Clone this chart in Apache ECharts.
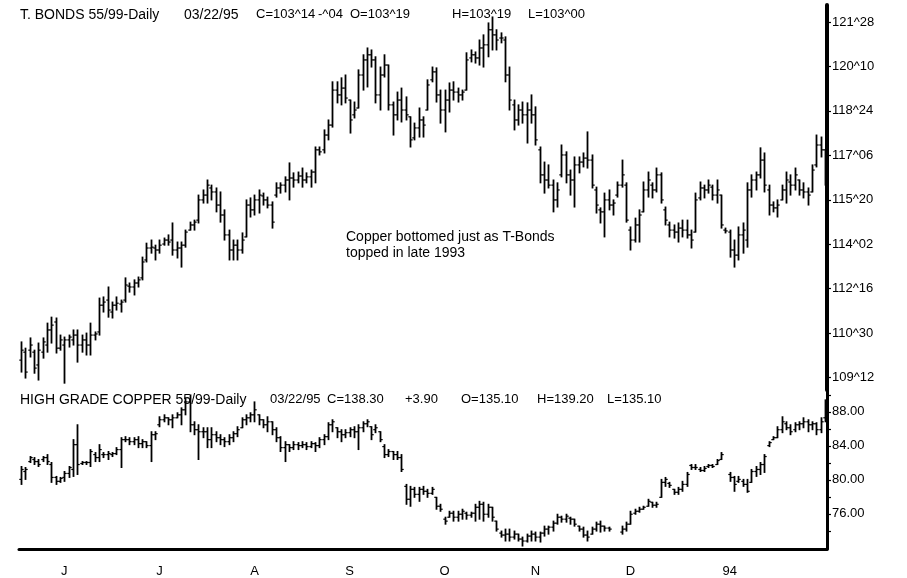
<!DOCTYPE html>
<html>
<head>
<meta charset="utf-8">
<title>T-Bonds and High Grade Copper, daily 1993</title>
<script src="https://cdn.jsdelivr.net/npm/echarts@6/dist/echarts.min.js"></script>
<style>
html, body { margin: 0; padding: 0; background: #fff; }
#chart { width: 907px; height: 578px; }
</style>
</head>
<body>
<div id="chart"></div>
<script>
// one bar per weekday, starting Tue 18 May 1993
var startDate = '1993-05-18'
var barCount = 187
var monthLetters = ['J', 'F', 'M', 'A', 'M', 'J', 'J', 'A', 'S', 'O', 'N', 'D']

// T-Bonds, points (decimal, axis shows 32nds)
var tbOpen = [109.99, 110.27, 110.34, 110.27, 109.82, 110.27, 110.52, 111.05, 111.33, 110.41,
  110.52, 110.70, 110.70, 110.87, 110.52, 110.70, 110.52, 110.87, 110.98, 111.92,
  112.10, 111.68, 111.92, 111.96, 112.10, 112.59, 112.56, 112.70, 112.88, 113.51,
  113.93, 113.93, 113.86, 114.07, 114.21, 114.21, 113.86, 113.93, 114.03, 114.56,
  114.74, 114.91, 115.62, 115.79, 116.04, 115.90, 115.44, 115.09, 114.39, 113.86,
  114.03, 113.86, 114.32, 115.44, 115.27, 115.62, 115.76, 115.62, 115.44, 115.79,
  116.04, 116.14, 116.32, 116.39, 116.32, 116.46, 116.32, 116.43, 116.60, 117.38,
  117.38, 117.90, 118.25, 119.48, 119.31, 119.55, 119.13, 118.61, 118.85, 120.01,
  120.54, 120.72, 120.54, 119.31, 120.01, 120.36, 118.96, 118.61, 119.13, 118.78,
  118.54, 117.80, 118.15, 118.43, 118.78, 119.84, 120.12, 119.31, 118.78, 119.13,
  119.48, 119.41, 119.31, 119.48, 120.61, 120.72, 120.61, 120.96, 121.07, 121.60,
  121.42, 121.31, 121.24, 120.01, 118.96, 118.43, 118.78, 118.61, 118.78, 118.61,
  117.38, 116.50, 116.32, 116.14, 115.62, 116.50, 117.20, 116.50, 116.32, 116.85,
  116.95, 117.09, 117.02, 115.97, 115.27, 115.20, 115.62, 115.44, 115.79, 116.14,
  116.14, 114.56, 114.21, 114.74, 115.20, 115.97, 116.14, 115.97, 116.50, 115.27,
  114.74, 114.56, 114.49, 114.63, 114.56, 114.39, 114.49, 115.69, 116.04, 115.97,
  116.07, 115.79, 115.79, 114.56, 114.49, 113.86, 113.68, 114.39, 114.21, 115.97,
  116.32, 116.50, 117.02, 115.97, 115.44, 115.34, 115.62, 115.97, 116.25, 116.14,
  116.32, 115.97, 115.90, 115.90, 116.85, 117.55, 117.38]
var tbHigh = [110.63, 110.41, 110.77, 110.34, 110.59, 110.77, 111.29, 111.50, 111.47, 110.87,
  110.80, 110.87, 111.05, 111.05, 110.87, 110.94, 111.29, 110.98, 112.17, 112.21,
  112.56, 112.03, 112.21, 112.10, 112.88, 112.70, 112.81, 112.91, 113.61, 114.10,
  114.21, 114.03, 114.21, 114.28, 114.39, 114.81, 114.14, 114.14, 114.56, 114.84,
  114.91, 115.79, 115.97, 116.32, 116.14, 116.04, 115.90, 115.27, 114.56, 114.21,
  114.21, 114.46, 115.62, 115.69, 115.79, 115.97, 115.86, 115.72, 115.55, 116.22,
  116.22, 116.43, 116.92, 116.57, 116.60, 116.74, 116.57, 116.67, 117.48, 117.48,
  118.08, 118.43, 119.77, 119.77, 119.91, 120.01, 119.13, 119.06, 120.19, 120.72,
  120.96, 120.89, 120.65, 120.29, 120.72, 120.36, 119.06, 119.41, 119.55, 119.24,
  118.54, 118.32, 118.85, 118.54, 119.84, 120.29, 120.26, 119.48, 119.48, 119.73,
  119.77, 119.55, 119.48, 120.79, 120.89, 120.82, 121.24, 121.42, 121.84, 122.05,
  121.60, 121.49, 121.35, 120.29, 119.13, 118.96, 119.06, 119.03, 119.31, 118.89,
  117.48, 116.95, 116.85, 116.32, 116.22, 117.55, 117.31, 116.67, 117.13, 117.13,
  117.27, 118.01, 117.20, 116.07, 115.34, 115.86, 115.97, 115.62, 116.25, 117.02,
  116.22, 114.67, 114.98, 115.27, 116.25, 116.60, 116.22, 116.74, 116.57, 115.37,
  114.84, 114.74, 114.81, 114.91, 114.91, 114.56, 115.86, 116.25, 116.14, 116.32,
  116.14, 116.32, 115.79, 114.63, 114.56, 114.21, 114.67, 114.81, 116.22, 116.50,
  116.60, 117.45, 117.27, 116.14, 115.55, 115.62, 116.14, 116.60, 116.50, 116.74,
  116.32, 116.22, 116.04, 116.85, 117.90, 117.83, 117.38]
var tbLow = [109.57, 109.36, 110.10, 109.53, 109.29, 110.06, 110.27, 110.59, 110.24, 110.34,
  109.18, 110.45, 110.52, 109.92, 110.27, 110.17, 110.17, 110.70, 110.87, 111.68,
  111.50, 111.47, 111.75, 111.68, 112.03, 112.38, 112.28, 112.56, 112.81, 113.44,
  113.75, 113.51, 113.75, 114.03, 114.03, 113.68, 113.58, 113.26, 113.96, 114.56,
  114.56, 114.81, 115.51, 115.51, 115.62, 115.20, 114.84, 114.21, 113.51, 113.51,
  113.51, 113.75, 114.32, 115.02, 115.09, 115.16, 115.44, 115.34, 114.63, 115.72,
  115.86, 115.90, 115.62, 116.07, 116.22, 116.07, 116.22, 116.07, 116.22, 117.20,
  117.27, 117.73, 118.18, 119.03, 118.96, 119.03, 117.97, 118.50, 118.85, 119.48,
  119.59, 120.29, 119.03, 118.78, 119.94, 118.78, 117.90, 118.43, 118.36, 118.43,
  117.48, 117.73, 117.83, 117.83, 118.78, 119.77, 119.06, 118.32, 118.01, 118.71,
  119.13, 119.06, 119.13, 119.48, 120.47, 120.43, 120.36, 120.29, 120.65, 120.89,
  120.89, 121.14, 119.77, 118.78, 118.08, 118.25, 118.32, 117.62, 118.32, 117.55,
  116.22, 115.86, 116.04, 115.20, 115.37, 116.43, 116.22, 115.79, 115.37, 116.57,
  116.78, 116.74, 116.04, 115.16, 114.81, 114.32, 115.27, 115.09, 115.72, 116.07,
  114.84, 113.86, 114.14, 114.14, 115.20, 115.72, 115.69, 115.90, 115.51, 114.74,
  114.32, 114.28, 114.14, 114.32, 114.28, 113.93, 114.49, 115.62, 115.69, 115.86,
  115.62, 115.51, 114.63, 114.46, 113.61, 113.26, 113.51, 113.75, 113.96, 115.72,
  115.97, 116.39, 115.90, 115.09, 115.20, 115.02, 115.62, 115.51, 115.79, 115.97,
  115.79, 115.69, 115.44, 115.90, 116.78, 117.13, 116.14]
var tbClose = [110.34, 109.57, 110.52, 109.71, 110.34, 110.63, 111.05, 111.22, 110.41, 110.70,
  110.70, 110.80, 110.87, 110.52, 110.70, 110.52, 110.87, 110.91, 111.92, 112.03,
  111.75, 111.92, 111.99, 112.03, 112.63, 112.56, 112.70, 112.81, 113.44, 113.93,
  113.96, 113.86, 114.03, 114.21, 114.14, 113.86, 113.93, 114.03, 114.49, 114.74,
  114.84, 115.62, 115.79, 116.14, 115.90, 115.44, 115.09, 114.39, 113.86, 114.03,
  113.86, 114.21, 115.44, 115.27, 115.62, 115.79, 115.62, 115.44, 114.84, 116.04,
  116.14, 116.32, 116.39, 116.32, 116.46, 116.32, 116.43, 116.60, 117.38, 117.31,
  117.90, 118.25, 119.48, 119.31, 119.55, 119.20, 118.43, 118.78, 120.01, 120.54,
  120.72, 120.54, 119.31, 120.01, 120.36, 118.96, 118.61, 119.13, 118.78, 118.61,
  117.73, 118.15, 118.43, 118.25, 119.66, 120.12, 119.31, 118.78, 119.13, 119.48,
  119.41, 119.31, 119.41, 120.54, 120.72, 120.61, 120.96, 121.07, 121.60, 121.42,
  121.24, 121.31, 120.01, 119.13, 118.43, 118.78, 118.61, 118.78, 118.61, 117.73,
  116.50, 116.32, 116.14, 115.62, 115.97, 117.20, 116.50, 116.32, 116.85, 116.95,
  117.09, 117.02, 116.14, 115.44, 115.20, 115.62, 115.44, 115.51, 116.14, 116.50,
  114.91, 114.21, 114.74, 115.09, 115.97, 116.32, 115.97, 116.50, 115.62, 114.91,
  114.56, 114.49, 114.63, 114.56, 114.39, 114.21, 115.62, 116.04, 115.97, 116.14,
  115.79, 115.97, 114.74, 114.53, 113.86, 113.68, 114.39, 114.56, 115.97, 116.32,
  116.50, 117.02, 116.14, 115.44, 115.34, 115.44, 115.97, 116.32, 116.14, 116.50,
  115.97, 115.90, 115.79, 116.67, 117.55, 117.38, 116.32]
var tbTicks = [109.375, 110.9375, 112.5, 114.0625, 115.625, 117.1875, 118.75, 120.3125, 121.875]

// High grade copper, cents/lb (null = no bar)
var cuOpen = [80.05, 80.98, 82.15, 82.39, 82.15, 82.39, 82.62, 81.80, 80.28, 79.82,
  80.28, 80.75, 81.22, 84.14, 81.92, 82.04, 82.04, 82.97, 82.62, 82.97,
  82.97, 82.97, 83.09, 83.56, 84.73, 84.73, 84.49, 84.73, 84.26, 84.49,
  84.03, 85.31, 86.48, 87.07, 87.30, 87.07, 87.30, 87.65, 88.24, 89.17,
  86.48, 85.90, 85.66, 85.66, 84.73, 85.31, 84.96, 84.73, 84.49, 84.96,
  85.43, 86.13, 87.07, 87.30, 87.65, 87.65, 87.07, 86.48, 86.83, 85.90,
  84.96, 83.79, 84.14, 83.79, 84.14, 84.03, 84.14, 83.91, 84.26, 84.03,
  84.73, 85.08, 86.48, 86.13, 85.66, 85.31, 85.55, 85.90, 85.66, 86.13,
  86.60, 86.25, 85.90, 85.66, 83.91, 82.97, 83.33, 82.97, 82.62, 79.23,
  77.71, 78.88, 78.29, 78.88, 78.65, 78.41, 77.94, 76.89, 75.37, 75.60,
  76.07, 75.60, 75.95, 76.07, 75.84, 76.07, 76.77, 77.12, 75.95, 76.77,
  75.14, 73.73, 73.50, 73.61, 73.26, 73.61, 73.03, 72.80, 73.38, 73.61,
  73.26, 73.73, 74.20, 74.43, 74.90, 75.60, 75.37, 75.49, 75.37, 74.55,
  74.20, 73.50, 73.61, 74.20, 74.78, 74.55, 74.32, null, null, 73.85,
  74.20, 74.78, 76.07, 76.30, 76.54, 76.89, 77.36, 77.01, 77.94, 79.70,
  79.58, 78.88, 78.53, 78.88, 79.46, 81.69, 81.45, 81.22, 81.10, 81.57,
  81.69, 81.80, 82.39, null, 80.63, 80.28, 79.82, 79.82, 79.46, 79.70,
  80.98, 81.22, 81.80, 84.03, 84.73, 84.96, 85.90, 86.60, 86.13, 85.90,
  86.48, 86.60, 86.83, 86.48, 86.60, 85.90, 87.30]
var cuHigh = [81.57, 81.45, 82.74, 82.62, 82.39, 82.74, 82.97, 82.04, 80.40, 80.28,
  80.98, 81.57, 84.73, 86.48, 82.15, 82.15, 83.56, 83.21, 84.14, 83.21,
  83.33, 83.21, 83.79, 84.96, 85.08, 84.96, 84.96, 85.08, 84.73, 84.49,
  85.66, 85.66, 87.42, 87.65, 87.30, 87.65, 87.89, 88.47, 89.64, 89.99,
  86.83, 86.48, 86.13, 86.13, 86.13, 85.66, 85.31, 84.96, 85.31, 85.66,
  86.25, 87.30, 87.65, 87.89, 89.17, 87.65, 87.07, 87.42, 86.83, 86.13,
  85.08, 84.49, 84.14, 84.49, 84.38, 84.49, 84.38, 84.49, 84.38, 84.96,
  85.31, 86.72, 87.07, 86.13, 85.90, 85.90, 86.13, 86.25, 86.48, 86.83,
  87.07, 86.25, 86.48, 85.66, 84.14, 83.56, 83.33, 83.33, 82.97, 79.46,
  79.23, 79.11, 79.11, 79.23, 78.88, 79.11, 77.94, 77.12, 75.60, 76.30,
  76.30, 76.30, 76.54, 76.19, 76.19, 77.12, 77.47, 77.36, 77.12, 76.77,
  75.14, 73.97, 74.20, 74.20, 73.97, 73.61, 73.26, 73.61, 73.97, 73.85,
  73.85, 74.55, 74.55, 75.14, 75.95, 75.72, 75.95, 75.60, 75.37, 74.55,
  74.43, 73.97, 74.43, 75.02, 75.14, 74.55, 74.43, null, null, 74.55,
  75.02, 76.30, 76.54, 76.77, 76.89, 77.71, 77.36, 77.36, 80.05, 80.28,
  79.70, 78.88, 79.11, 79.82, 80.87, 81.80, 81.80, 81.45, 81.57, 81.80,
  81.80, 82.39, 83.21, null, 80.87, 80.40, 80.40, 80.05, 80.05, 81.22,
  81.57, 82.04, 82.97, 84.49, 85.08, 86.25, 87.42, 86.83, 86.48, 86.72,
  86.83, 87.30, 87.07, 86.83, 86.72, 87.30, 89.41]
var cuLow = [79.46, 80.05, 82.04, 81.80, 81.57, 82.15, 81.80, 79.70, 79.46, 79.70,
  79.82, 80.28, 80.40, 80.63, 81.80, 81.80, 81.57, 82.15, 82.15, 82.62,
  82.39, 82.74, 82.97, 81.45, 84.49, 84.14, 84.14, 83.79, 83.79, 83.79,
  82.15, 84.73, 86.25, 86.83, 86.48, 86.13, 87.30, 86.48, 87.65, 85.66,
  85.31, 82.39, 84.96, 83.79, 83.79, 84.49, 84.14, 83.91, 84.14, 84.49,
  85.08, 86.13, 86.48, 86.83, 86.83, 86.48, 86.13, 85.66, 85.31, 84.49,
  83.33, 82.15, 83.33, 83.56, 83.56, 83.79, 83.56, 83.79, 83.33, 83.79,
  84.14, 84.73, 85.66, 84.96, 84.49, 84.96, 85.08, 84.96, 83.56, 85.66,
  86.25, 84.73, 85.55, 84.49, 82.62, 82.74, 82.39, 82.39, 80.98, 77.12,
  76.89, 77.94, 77.47, 78.29, 77.94, 78.29, 76.54, 76.30, 74.78, 75.60,
  75.14, 75.14, 75.37, 75.37, 75.60, 75.14, 75.37, 75.14, 75.60, 75.14,
  73.97, 73.26, 72.80, 72.80, 73.03, 72.80, 72.21, 72.68, 72.80, 72.80,
  72.68, 73.38, 73.61, 73.97, 74.78, 75.02, 75.02, 74.78, 74.55, 73.97,
  73.26, 72.80, 73.61, 73.97, 73.85, 73.97, 73.97, null, null, 73.61,
  73.97, 74.78, 75.95, 76.19, 76.54, 76.89, 76.77, 76.77, 77.94, 79.23,
  79.11, 78.29, 78.29, 78.65, 79.23, 81.22, 81.22, 80.98, 80.98, 81.45,
  81.45, 81.80, 82.39, null, 79.82, 78.65, 79.70, 79.23, 78.53, 79.70,
  80.40, 80.63, 80.87, 83.91, 84.73, 84.96, 85.55, 85.90, 85.31, 85.66,
  85.90, 86.13, 85.66, 85.90, 85.31, 85.55, 86.83]
var cuClose = [81.22, 81.22, 82.62, 82.15, 81.80, 82.62, 82.15, 80.28, 79.82, 80.17,
  80.75, 81.45, 84.14, 81.80, 82.04, 82.04, 83.33, 82.62, 83.56, 82.97,
  83.09, 83.09, 83.56, 84.73, 84.73, 84.49, 84.73, 84.26, 84.49, 84.03,
  85.31, 85.43, 87.07, 87.30, 87.07, 87.30, 87.65, 88.24, 89.17, 86.48,
  85.90, 85.66, 85.66, 84.73, 85.31, 84.96, 84.73, 84.49, 84.96, 85.43,
  85.90, 87.07, 87.30, 87.65, 88.24, 87.07, 86.48, 86.83, 85.90, 84.96,
  83.79, 84.14, 83.79, 84.14, 84.03, 84.14, 83.91, 84.26, 84.03, 84.73,
  85.08, 86.48, 86.83, 85.66, 85.31, 85.55, 85.90, 85.66, 86.13, 86.60,
  86.83, 85.31, 86.13, 84.73, 82.97, 83.33, 82.97, 82.62, 81.22, 77.71,
  78.88, 78.29, 78.88, 78.65, 78.41, 78.88, 76.89, 76.54, 75.14, 76.07,
  75.60, 75.95, 76.30, 75.84, 76.07, 76.77, 77.12, 75.95, 76.77, 75.60,
  74.20, 73.50, 73.61, 73.26, 73.61, 73.03, 72.80, 73.38, 73.61, 73.26,
  73.73, 74.20, 74.43, 74.90, 75.60, 75.37, 75.72, 75.37, 74.78, 74.20,
  73.50, 73.26, 74.20, 74.78, 74.55, 74.32, 74.20, null, null, 74.20,
  74.78, 75.95, 76.30, 76.54, 76.77, 77.47, 77.01, 77.12, 79.70, 80.05,
  79.35, 78.53, 78.88, 79.46, 80.63, 81.45, 81.45, 81.10, 81.34, 81.69,
  81.57, 82.27, 82.97, null, 80.28, 79.46, 80.05, 79.46, 78.65, 80.98,
  81.22, 81.80, 82.74, 84.38, 84.96, 85.90, 86.83, 86.13, 85.66, 86.48,
  86.60, 86.83, 86.48, 86.60, 85.90, 86.83, 88.82]
var cuLabelTicks = [76, 80, 84, 88]
var cuMinorTicks = [74, 76, 78, 80, 82, 84, 86, 88, 90]

function weekdays(start, n) {
  var out = []
  var d = new Date(start + 'T00:00:00Z')
  while (out.length < n) {
    var wd = d.getUTCDay()
    if (wd !== 0 && wd !== 6) out.push(d.toISOString().slice(0, 10))
    d.setUTCDate(d.getUTCDate() + 1)
  }
  return out
}

var days = weekdays(startDate, barCount)

function isMonthStart(i) {
  return i > 0 && days[i].slice(5, 7) !== days[i - 1].slice(5, 7)
}
function isMonday(i) {
  return new Date(days[i] + 'T00:00:00Z').getUTCDay() === 1
}
function to32nds(v) {
  var whole = Math.floor(v + 1e-6)
  var n = Math.round((v - whole) * 32)
  return whole + '^' + (n < 10 ? '0' + n : n)
}

function ohlc(open, high, low, close) {
  return days.map(function(d, i) {
    return [i, open[i], high[i], low[i], close[i]]
  })
}

function renderBar(params, api) {
  var h = api.value(2)
  if (h == null || isNaN(h)) return null
  var i = api.value(0)
  var top = api.coord([i, h])
  var bot = api.coord([i, api.value(3)])
  var op = api.coord([i, api.value(1)])
  var cl = api.coord([i, api.value(4)])
  var x = Math.round(top[0]) + 0.5
  return {
    type: 'group',
    children: [
      { type: 'line', shape: { x1: x, y1: top[1] - 0.5, x2: x, y2: bot[1] + 0.5 }, style: { stroke: '#000', lineWidth: 1.8 } },
      { type: 'line', shape: { x1: x - 2.2, y1: op[1], x2: x, y2: op[1] }, style: { stroke: '#000', lineWidth: 1.2 } },
      { type: 'line', shape: { x1: x, y1: cl[1], x2: x + 2.2, y2: cl[1] }, style: { stroke: '#000', lineWidth: 1.2 } }
    ]
  }
}

var font = '"Liberation Sans", Arial, sans-serif'
function txt(x, y, s, size) {
  return { type: 'text', x: x, y: y, z: 10, style: { text: s, fill: '#000', font: (size || 14) + 'px ' + font } }
}

var chart = echarts.init(document.getElementById('chart'))
var option = {
  animation: false,
  backgroundColor: '#fff',
  textStyle: { fontFamily: font, color: '#000' },
  grid: [
    { left: 19, right: 80, top: 5, height: 385 },
    { left: 19, right: 80, top: 390, height: 160 }
  ],
  xAxis: [
    { type: 'category', gridIndex: 0, data: days, show: false },
    {
      type: 'category',
      gridIndex: 1,
      data: days,
      axisLine: { lineStyle: { color: '#000', width: 3 } },
      axisTick: {
        alignWithLabel: true,
        length: 6,
        lineStyle: { color: '#000', width: 1.5 },
        interval: function(i) { return isMonthStart(i) || isMonday(i) }
      },
      axisLabel: {
        color: '#000',
        fontSize: 13,
        margin: 16,
        // no label for the few February bars at the right edge
        interval: function(i) { return isMonthStart(i) && i < barCount - 5 },
        formatter: function(v) {
          var m = +v.slice(5, 7)
          return m === 1 ? v.slice(2, 4) : monthLetters[m - 1]
        }
      },
      splitLine: { show: false }
    }
  ],
  yAxis: [
    {
      type: 'value',
      gridIndex: 0,
      position: 'right',
      min: 108.94,
      max: 122.47,
      splitLine: { show: false },
      axisLine: { show: true, onZero: false, lineStyle: { color: '#000', width: 4 } },
      axisTick: { show: true, length: 4, customValues: tbTicks, lineStyle: { color: '#000', width: 1.2 } },
      axisLabel: { color: '#000', fontSize: 13, margin: 5, customValues: tbTicks, formatter: to32nds }
    },
    {
      type: 'value',
      gridIndex: 1,
      position: 'right',
      min: 71.86,
      max: 90.57,
      splitLine: { show: false },
      axisLine: { show: true, onZero: false, lineStyle: { color: '#000', width: 3 } },
      axisTick: { show: true, length: 4, customValues: cuMinorTicks, lineStyle: { color: '#000', width: 1.2 } },
      axisLabel: {
        color: '#000',
        fontSize: 13,
        margin: 5,
        customValues: cuLabelTicks,
        formatter: function(v) { return v.toFixed(2) }
      }
    }
  ],
  series: [
    {
      name: 'T. BONDS',
      type: 'custom',
      xAxisIndex: 0,
      yAxisIndex: 0,
      renderItem: renderBar,
      encode: { x: 0, y: [1, 2, 3, 4] },
      data: ohlc(tbOpen, tbHigh, tbLow, tbClose),
      clip: false
    },
    {
      name: 'HIGH GRADE COPPER',
      type: 'custom',
      xAxisIndex: 1,
      yAxisIndex: 1,
      renderItem: renderBar,
      encode: { x: 0, y: [1, 2, 3, 4] },
      data: ohlc(cuOpen, cuHigh, cuLow, cuClose),
      clip: false
    }
  ],
  graphic: [
    txt(20, 8, 'T. BONDS 55/99-Daily'),
    txt(184, 8, '03/22/95'),
    txt(256, 8, 'C=103^14', 13),
    txt(318, 8, '-^04', 13),
    txt(350, 8, 'O=103^19', 13),
    txt(452, 8, 'H=103^19', 13),
    txt(528, 8, 'L=103^00', 13),
    txt(20, 393, 'HIGH GRADE COPPER 55/99-Daily'),
    txt(270, 393, '03/22/95', 13),
    txt(327, 393, 'C=138.30', 13),
    txt(405, 393, '+3.90', 13),
    txt(461, 393, 'O=135.10', 13),
    txt(537, 393, 'H=139.20', 13),
    txt(607, 393, 'L=135.10', 13),
    txt(346, 230, 'Copper bottomed just as T-Bonds'),
    txt(346, 246, 'topped in late 1993')
  ]
}
chart.setOption(option)
</script>
</body>
</html>
